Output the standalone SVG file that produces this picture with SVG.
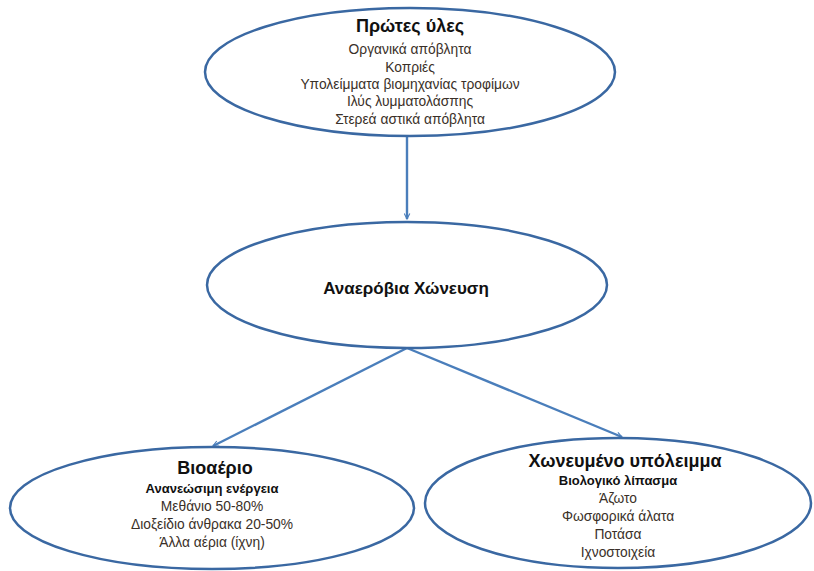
<svg xmlns="http://www.w3.org/2000/svg" width="814" height="571" viewBox="0 0 814 571">
<style>
.node{fill:#ffffff;stroke:#3a68a2;stroke-width:2.5}
.edge{stroke:#4a7ebb;stroke-width:2.4;fill:none}
text{font-family:"Liberation Sans","DejaVu Sans",sans-serif;text-anchor:middle;fill:#2e2a26}
.t{font-size:18px;font-weight:bold;fill:#111}
.b{font-size:13px;font-weight:bold;fill:#111}
.l{font-size:13.8px;fill:#3a3028}
</style>
<defs>
<marker id="ah" viewBox="0 0 10 10" refX="9" refY="5" markerWidth="7" markerHeight="7" orient="auto" markerUnits="userSpaceOnUse">
<path d="M1,1 L9,5 L1,9" fill="none" stroke="#4a7ebb" stroke-width="1.6"/>
</marker>
</defs>
<rect width="814" height="571" fill="#ffffff"/>
<g id="connectors">
<line class="edge" x1="407" y1="137" x2="407" y2="219" marker-end="url(#ah)"/>
<line class="edge" x1="407" y1="348" x2="213" y2="446" marker-end="url(#ah)"/>
<line class="edge" x1="407" y1="348" x2="622" y2="437" marker-end="url(#ah)"/>
</g>
<g id="raw">
<ellipse class="node" cx="410" cy="72" rx="205" ry="64"/>
<text class="t" x="410" y="32">Πρώτες ύλες</text>
<text class="l" x="410" y="54">Οργανικά απόβλητα</text>
<text class="l" x="410" y="72">Κοπριές</text>
<text class="l" x="410" y="89">Υπολείμματα βιομηχανίας τροφίμων</text>
<text class="l" x="410" y="106">Ιλύς λυμματολάσπης</text>
<text class="l" x="410" y="124">Στερεά αστικά απόβλητα</text>
</g>
<g id="digestion">
<ellipse class="node" cx="407" cy="285" rx="200" ry="63"/>
<text x="406" y="294" style="font-size:17px;font-weight:bold;fill:#111">Αναερόβια Χώνευση</text>
</g>
<g id="biogas">
<ellipse class="node" cx="212" cy="508" rx="202" ry="61"/>
<text class="t" x="215" y="474">Βιοαέριο</text>
<text class="b" x="212" y="493">Ανανεώσιμη ενέργεια</text>
<text class="l" x="212" y="511">Μεθάνιο 50-80%</text>
<text class="l" x="212" y="529">Διοξείδιο άνθρακα 20-50%</text>
<text class="l" x="212" y="547">Άλλα αέρια (ίχνη)</text>
</g>
<g id="digestate">
<ellipse class="node" cx="618" cy="503" rx="193" ry="65"/>
<text class="t" x="625" y="467">Χωνευμένο υπόλειμμα</text>
<text class="b" x="618" y="485">Βιολογικό λίπασμα</text>
<text class="l" x="618" y="503">Άζωτο</text>
<text class="l" x="618" y="521">Φωσφορικά άλατα</text>
<text class="l" x="618" y="539">Ποτάσα</text>
<text class="l" x="618" y="557">Ιχνοστοιχεία</text>
</g>
</svg>
